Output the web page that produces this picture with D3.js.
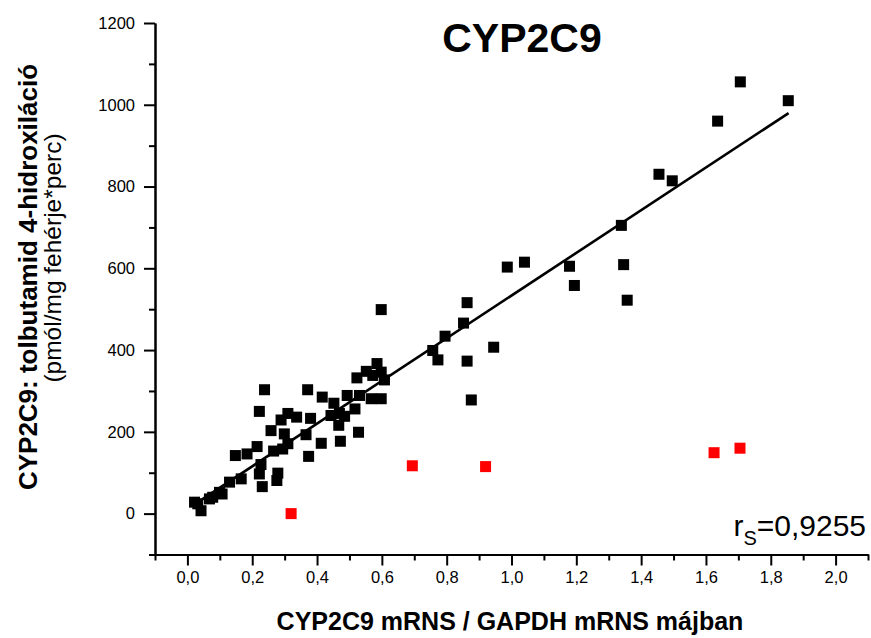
<!DOCTYPE html>
<html><head><meta charset="utf-8">
<script src="https://cdn.jsdelivr.net/npm/d3@7"></script>
<style>
body{margin:0;background:#fff}
text{font-family:"Liberation Sans",Arial,Helvetica,sans-serif;fill:#000}
</style>
</head><body>
<svg id="chart" width="871" height="638"></svg>
<script>
// ---- data ----
const blackX = [0.598,0.585,0.552,0.523,0.598,0.608,0.238,0.371,0.416,0.452,0.493,0.531,0.567,0.598,
  0.222,0.310,0.337,0.289,0.380,0.443,0.485,0.517,0.467,0.366,0.299,0.258,0.528,0.413,0.472,0.310,
  0.294,0.215,0.374,0.266,0.148,0.184,0.227,0.222,0.231,0.279,0.276,0.166,0.130,0.107,0.078,0.032,
  0.042,0.987,1.040,0.863,0.852,0.795,0.757,0.773,0.863,0.945,0.876,1.706,1.854,1.636,1.455,1.496,
  1.339,1.346,1.357,1.179,1.194,0.469,0.572,0.022,0.099,0.068];
const blackY = [499,367,348,332,346,327,303,303,285,270,289,289,281,281,
  250,245,236,229,233,240,238,256,216,193,195,203,199,172,177,171,
  158,164,140,153,142,146,120,97,66,99,81,85,77,48,40,24,
  7,603,615,516,466,434,399,376,373,407,278,1056,1010,960,830,814,
  705,609,522,605,558,245,338,28,52,36];
const redX = [0.320,0.694,0.920,1.625,1.705];
const redY = [0,117,115,149,160];
const xTickLabels = [0,0.2,0.4,0.6,0.8,1.0,1.2,1.4,1.6,1.8,2.0];
const xMinorTicks = [-0.1,0.1,0.3,0.5,0.7,0.9,1.1,1.3,1.5,1.7,1.9,2.1];
const yTickLabels = [0,200,400,600,800,1000,1200];
const yMinorTicks = [-100,100,300,500,700,900,1100];
const fitSlope = 522, fitIntercept = 11.3;
const fitXRange = [0.03,1.855];
const rsText = "0,9255";

// ---- chart ----
const svg = d3.select("#chart");
const x = d3.scaleLinear().domain([-0.1,2.1]).range([155,868]);
const y = d3.scaleLinear().domain([-100,1200]).range([554.5,23]);
const fmt = d => d3.format(".1f")(d).replace(".", ",");

// x axis
const gx = svg.append("g").attr("transform","translate(0,"+y(-100)+")");
gx.call(d3.axisBottom(x).tickValues(xTickLabels).tickFormat(fmt).tickSize(11).tickSizeOuter(0).tickPadding(6));
gx.append("g").call(d3.axisBottom(x).tickValues(xMinorTicks).tickFormat("").tickSize(6).tickSizeOuter(0));
gx.selectAll("path.domain").attr("stroke","#000").attr("stroke-width",2);
gx.selectAll(".tick line").attr("stroke","#000").attr("stroke-width",2);
gx.selectAll(".tick text").style("font-size","16.5px").attr("font-family",null);

// y axis
const gy = svg.append("g").attr("transform","translate("+x(-0.1)+",0)");
gy.call(d3.axisLeft(y).tickValues(yTickLabels).tickFormat(d3.format("d")).tickSize(11).tickSizeOuter(0).tickPadding(9));
gy.append("g").call(d3.axisLeft(y).tickValues(yMinorTicks).tickFormat("").tickSize(6).tickSizeOuter(0));
gy.selectAll("path.domain").attr("stroke","#000").attr("stroke-width",2);
gy.selectAll(".tick line").attr("stroke","#000").attr("stroke-width",2);
gy.selectAll(".tick text").style("font-size","16.5px").attr("font-family",null);

// fit line
const fitPts = fitXRange.map(v => [v, fitIntercept + fitSlope*v]);
svg.append("path")
  .attr("d", d3.line().x(d=>x(d[0])).y(d=>y(d[1]))(fitPts))
  .attr("stroke","#000").attr("stroke-width",2.6).attr("fill","none");

// points
const sz = 11;
svg.append("g").selectAll("rect").data(blackX.map((v,i)=>[v,blackY[i]])).join("rect")
  .attr("x",d=>x(d[0])-sz/2).attr("y",d=>y(d[1])-sz/2).attr("width",sz).attr("height",sz).attr("fill","#000");
svg.append("g").selectAll("rect").data(redX.map((v,i)=>[v,redY[i]])).join("rect")
  .attr("x",d=>x(d[0])-sz/2).attr("y",d=>y(d[1])-sz/2).attr("width",sz).attr("height",sz).attr("fill","#ff0000");

// title
svg.append("text").attr("x",522).attr("y",52).attr("text-anchor","middle")
  .style("font-size","41px").style("font-weight","bold").text("CYP2C9");

// x axis title
svg.append("text").attr("x",510).attr("y",630).attr("text-anchor","middle")
  .style("font-size","25px").style("font-weight","bold").text("CYP2C9 mRNS / GAPDH mRNS májban");

// y axis titles
svg.append("text").attr("transform","translate(37,277) rotate(-90)").attr("text-anchor","middle")
  .style("font-size","26px").style("font-weight","bold").text("CYP2C9: tolbutamid 4-hidroxiláció");
svg.append("text").attr("transform","translate(61,258) rotate(-90)").attr("text-anchor","middle")
  .style("font-size","24.5px").text("(pmól/mg fehérje*perc)");

// r_s annotation
const rs = svg.append("text").attr("x",866).attr("y",536).attr("text-anchor","end").style("font-size","30px");
rs.append("tspan").text("r");
rs.append("tspan").attr("dy",9).style("font-size","20px").text("S");
rs.append("tspan").attr("dy",-9).text("=" + rsText);
</script>
</body></html>
